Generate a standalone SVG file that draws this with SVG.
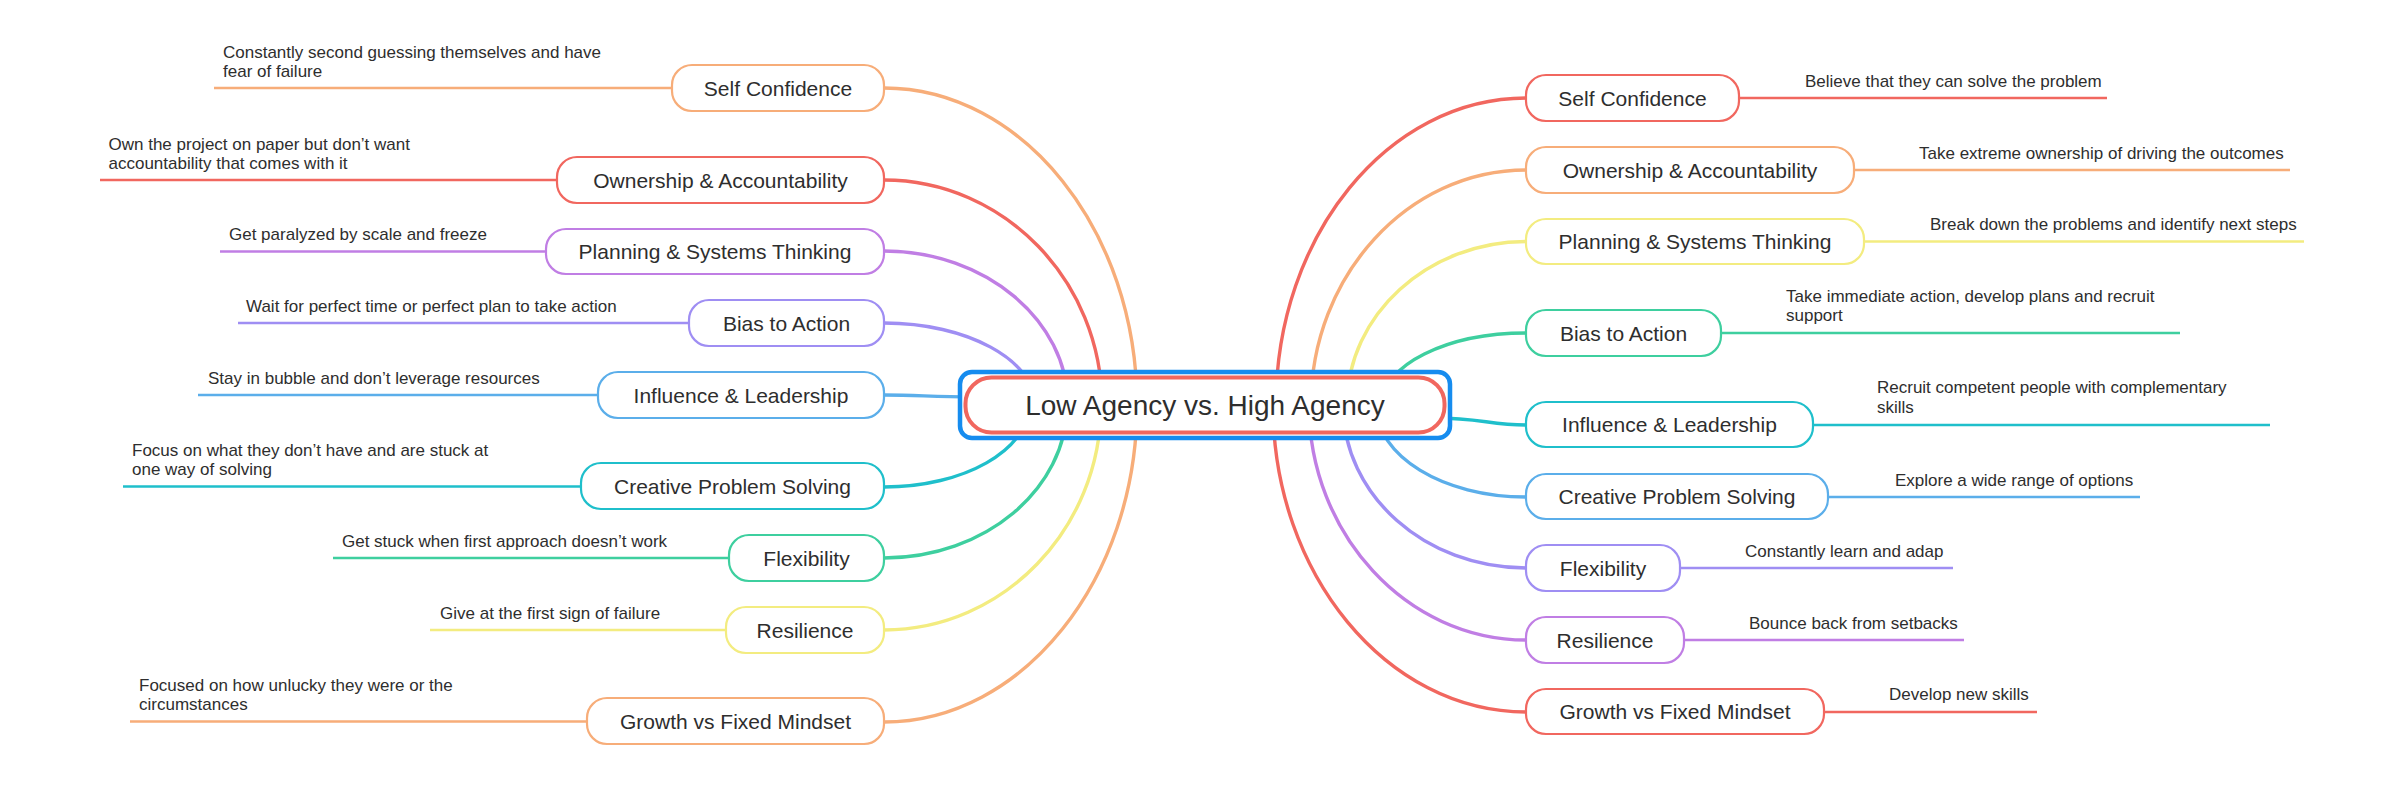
<svg xmlns="http://www.w3.org/2000/svg" width="2388" height="792" viewBox="0 0 2388 792">
<style>
.bg{fill:#ffffff}
.box{fill:#ffffff;stroke-width:2.2}
.lbl{font-family:"Liberation Sans",Arial,sans-serif;font-size:21px;fill:#2e2e2e;text-anchor:middle}
.desc{font-family:"Liberation Sans",Arial,sans-serif;font-size:17px;fill:#2e2e2e}
.ul{fill:none;stroke-width:2.6}
.con{fill:none;stroke-width:3.4;stroke-linecap:round}
.red{stroke:#F1675F}
.peach{stroke:#F7AD79}
.yellow{stroke:#F3EC80}
.orchid{stroke:#C07EE4}
.lav{stroke:#9F8EF3}
.blue{stroke:#5BAEEA}
.teal{stroke:#1FBFCB}
.green{stroke:#3ECF9F}
</style>
<rect class="bg" x="0" y="0" width="2388" height="792"/>

<g id="connectors">
  <path class="con peach" d="M884 88 C1023 88 1137 231 1137 405"/>
  <path class="con red" d="M884 180 C1004 180 1102 281 1102 405"/>
  <path class="con orchid" d="M884 251 C985 251 1068 320 1068 405"/>
  <path class="con lav" d="M884 323 C967 323 1035 360 1035 405"/>
  <path class="con blue" d="M884 395 C920 395 930 397 975 397"/>
  <path class="con teal" d="M884 487 C964 487 1029 450 1029 405"/>
  <path class="con green" d="M884 558 C985 558 1067 489 1067 405"/>
  <path class="con yellow" d="M884 630 C1003 630 1101 529 1101 405"/>
  <path class="con peach" d="M884 722 C1023 722 1137 579 1137 405"/>

  <path class="con red" d="M1526 98 C1388 98 1276 236 1276 405"/>
  <path class="con peach" d="M1526 170 C1408 170 1311 276 1311 405"/>
  <path class="con yellow" d="M1526 241.5 C1428 241.5 1347 315 1347 405"/>
  <path class="con green" d="M1526 333 C1447 333 1382 365 1382 405"/>
  <path class="con teal" d="M1526 425 C1490 425 1480 418 1435 418"/>
  <path class="con blue" d="M1526 497 C1443 497 1376 456 1376 405"/>
  <path class="con lav" d="M1526 568 C1425 568 1343 495 1343 405"/>
  <path class="con orchid" d="M1526 640 C1407 640 1309 534 1309 405"/>
  <path class="con red" d="M1526 712 C1387 712 1273 574 1273 405"/>
</g>

<g id="center">
  <rect x="960" y="372" width="490" height="66" rx="12" fill="#ffffff" stroke="#168CEF" stroke-width="4.5"/>
  <rect x="965.5" y="377.5" width="479" height="55" rx="26" fill="#ffffff" stroke="#F1675F" stroke-width="4"/>
  <text x="1205" y="415" font-family="Liberation Sans, Arial, sans-serif" font-size="28" fill="#2e2e2e" text-anchor="middle">Low Agency vs. High Agency</text>
</g>

<!-- Left side (Low Agency) -->
<g id="l-self-confidence">
  <rect class="box peach" x="672" y="65" width="212" height="46" rx="20"/>
  <text class="lbl" x="778" y="95.5">Self Confidence</text>
</g>
<g id="l-self-confidence-desc">
  <line class="ul peach" x1="672" y1="88" x2="214" y2="88"/>
  <text class="desc" x="223" y="58">Constantly second guessing themselves and have</text>
  <text class="desc" x="223" y="77">fear of failure</text>
</g>

<g id="l-ownership">
  <rect class="box red" x="557" y="157" width="327" height="46" rx="20"/>
  <text class="lbl" x="720.5" y="187.5">Ownership &amp; Accountability</text>
</g>
<g id="l-ownership-desc">
  <line class="ul red" x1="557" y1="180" x2="100" y2="180"/>
  <text class="desc" x="108.5" y="150">Own the project on paper but don’t want</text>
  <text class="desc" x="108.5" y="169">accountability that comes with it</text>
</g>

<g id="l-planning">
  <rect class="box orchid" x="546" y="229" width="338" height="45" rx="20"/>
  <text class="lbl" x="715" y="259">Planning &amp; Systems Thinking</text>
</g>
<g id="l-planning-desc">
  <line class="ul orchid" x1="546" y1="251.5" x2="220" y2="251.5"/>
  <text class="desc" x="229" y="240">Get paralyzed by scale and freeze</text>
</g>

<g id="l-bias">
  <rect class="box lav" x="689" y="300" width="195" height="46" rx="20"/>
  <text class="lbl" x="786.5" y="330.5">Bias to Action</text>
</g>
<g id="l-bias-desc">
  <line class="ul lav" x1="689" y1="323" x2="238" y2="323"/>
  <text class="desc" x="246" y="312">Wait for perfect time or perfect plan to take action</text>
</g>

<g id="l-influence">
  <rect class="box blue" x="598" y="372" width="286" height="46" rx="20"/>
  <text class="lbl" x="741" y="402.5">Influence &amp; Leadership</text>
</g>
<g id="l-influence-desc">
  <line class="ul blue" x1="598" y1="395" x2="198" y2="395"/>
  <text class="desc" x="208" y="384">Stay in bubble and don’t leverage resources</text>
</g>

<g id="l-creative">
  <rect class="box teal" x="581" y="463" width="303" height="46" rx="20"/>
  <text class="lbl" x="732.5" y="493.5">Creative Problem Solving</text>
</g>
<g id="l-creative-desc">
  <line class="ul teal" x1="581" y1="486.5" x2="123" y2="486.5"/>
  <text class="desc" x="132" y="456">Focus on what they don’t have and are stuck at</text>
  <text class="desc" x="132" y="475">one way of solving</text>
</g>

<g id="l-flexibility">
  <rect class="box green" x="729" y="535" width="155" height="46" rx="20"/>
  <text class="lbl" x="806.5" y="565.5">Flexibility</text>
</g>
<g id="l-flexibility-desc">
  <line class="ul green" x1="729" y1="558" x2="333" y2="558"/>
  <text class="desc" x="342" y="547">Get stuck when first approach doesn’t work</text>
</g>

<g id="l-resilience">
  <rect class="box yellow" x="726" y="607" width="158" height="46" rx="20"/>
  <text class="lbl" x="805" y="637.5">Resilience</text>
</g>
<g id="l-resilience-desc">
  <line class="ul yellow" x1="726" y1="630" x2="430" y2="630"/>
  <text class="desc" x="440" y="619">Give at the first sign of failure</text>
</g>

<g id="l-growth">
  <rect class="box peach" x="587" y="698" width="297" height="46" rx="20"/>
  <text class="lbl" x="735.5" y="728.5">Growth vs Fixed Mindset</text>
</g>
<g id="l-growth-desc">
  <line class="ul peach" x1="587" y1="721.5" x2="130" y2="721.5"/>
  <text class="desc" x="139" y="691">Focused on how unlucky they were or the</text>
  <text class="desc" x="139" y="710">circumstances</text>
</g>

<!-- Right side (High Agency) -->
<g id="r-self-confidence">
  <rect class="box red" x="1526" y="75" width="213" height="46" rx="20"/>
  <text class="lbl" x="1632.5" y="105.5">Self Confidence</text>
</g>
<g id="r-self-confidence-desc">
  <line class="ul red" x1="1739" y1="98" x2="2107" y2="98"/>
  <text class="desc" x="1805" y="87">Believe that they can solve the problem</text>
</g>

<g id="r-ownership">
  <rect class="box peach" x="1526" y="147" width="328" height="46" rx="20"/>
  <text class="lbl" x="1690" y="177.5">Ownership &amp; Accountability</text>
</g>
<g id="r-ownership-desc">
  <line class="ul peach" x1="1854" y1="170" x2="2290" y2="170"/>
  <text class="desc" x="1919" y="159">Take extreme ownership of driving the outcomes</text>
</g>

<g id="r-planning">
  <rect class="box yellow" x="1526" y="219" width="338" height="45" rx="20"/>
  <text class="lbl" x="1695" y="249">Planning &amp; Systems Thinking</text>
</g>
<g id="r-planning-desc">
  <line class="ul yellow" x1="1864" y1="241.5" x2="2304" y2="241.5"/>
  <text class="desc" x="1930" y="230">Break down the problems and identify next steps</text>
</g>

<g id="r-bias">
  <rect class="box green" x="1526" y="310" width="195" height="46" rx="20"/>
  <text class="lbl" x="1623.5" y="340.5">Bias to Action</text>
</g>
<g id="r-bias-desc">
  <line class="ul green" x1="1721" y1="333" x2="2180" y2="333"/>
  <text class="desc" x="1786" y="302">Take immediate action, develop plans and recruit</text>
  <text class="desc" x="1786" y="321">support</text>
</g>

<g id="r-influence">
  <rect class="box teal" x="1526" y="402" width="287" height="45" rx="20"/>
  <text class="lbl" x="1669.5" y="432">Influence &amp; Leadership</text>
</g>
<g id="r-influence-desc">
  <line class="ul teal" x1="1813" y1="425" x2="2270" y2="425"/>
  <text class="desc" x="1877" y="393">Recruit competent people with complementary</text>
  <text class="desc" x="1877" y="413">skills</text>
</g>

<g id="r-creative">
  <rect class="box blue" x="1526" y="474" width="302" height="45" rx="20"/>
  <text class="lbl" x="1677" y="504">Creative Problem Solving</text>
</g>
<g id="r-creative-desc">
  <line class="ul blue" x1="1828" y1="497" x2="2140" y2="497"/>
  <text class="desc" x="1895" y="486">Explore a wide range of options</text>
</g>

<g id="r-flexibility">
  <rect class="box lav" x="1526" y="545" width="154" height="46" rx="20"/>
  <text class="lbl" x="1603" y="575.5">Flexibility</text>
</g>
<g id="r-flexibility-desc">
  <line class="ul lav" x1="1680" y1="568" x2="1953" y2="568"/>
  <text class="desc" x="1745" y="557">Constantly learn and adap</text>
</g>

<g id="r-resilience">
  <rect class="box orchid" x="1526" y="617" width="158" height="46" rx="20"/>
  <text class="lbl" x="1605" y="647.5">Resilience</text>
</g>
<g id="r-resilience-desc">
  <line class="ul orchid" x1="1684" y1="640" x2="1964" y2="640"/>
  <text class="desc" x="1749" y="629">Bounce back from setbacks</text>
</g>

<g id="r-growth">
  <rect class="box red" x="1526" y="689" width="298" height="45" rx="20"/>
  <text class="lbl" x="1675" y="719">Growth vs Fixed Mindset</text>
</g>
<g id="r-growth-desc">
  <line class="ul red" x1="1824" y1="712" x2="2037" y2="712"/>
  <text class="desc" x="1889" y="700">Develop new skills</text>
</g>
</svg>
